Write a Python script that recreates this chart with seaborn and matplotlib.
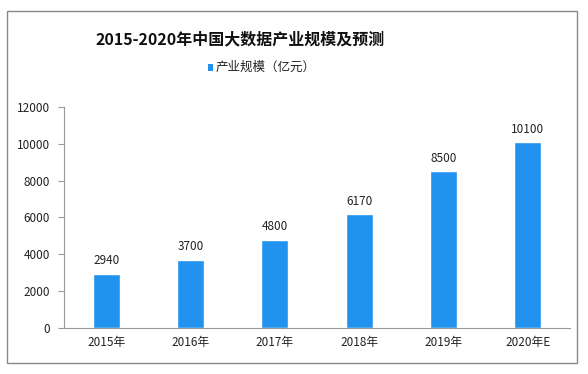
import matplotlib
matplotlib.use("Agg")
import matplotlib.pyplot as plt
import seaborn as sns
import pandas as pd
from matplotlib.patches import Rectangle

years = ["2015年", "2016年", "2017年", "2018年", "2019年", "2020年E"]
values = [2940, 3700, 4800, 6170, 8500, 10100]
series_name = "产业规模（亿元）"
title = "2015-2020年中国大数据产业规模及预测"
yticks = [0, 2000, 4000, 6000, 8000, 10000, 12000]

sns.set_style("white")
plt.rcParams['font.family'] = ['Noto Sans CJK SC', 'DejaVu Sans']

df = pd.DataFrame({"year": years, "value": values})

fig = plt.figure(figsize=(5.88, 3.74), dpi=100)
ax = fig.add_axes([64/588, 46/374, 506/588, 221/374])

bar_color = "#2193EE"
sns.barplot(data=df, x="year", y="value", color=bar_color, width=0.32,
            saturation=1, ax=ax)

for i, v in enumerate(values):
    ax.text(i, v + 350, str(v), ha="center", va="bottom", fontsize=8.5, color="#222222")

ax.set_ylim(0, 12000)
ax.set_xlim(-0.5, 5.5)
ax.set_yticks(yticks)
ax.set_yticklabels([str(t) for t in yticks], fontsize=8.5, color="#222222")
ax.tick_params(axis="x", labelsize=8.5, colors="#222222", length=0, pad=6)
ax.tick_params(axis="y", length=4, width=0.8, color="#999999", left=True, pad=6)
ax.set_xlabel("")
ax.set_ylabel("")
for s in ["top", "right"]:
    ax.spines[s].set_visible(False)
for s in ["left", "bottom"]:
    ax.spines[s].set_color("#999999")
    ax.spines[s].set_linewidth(0.8)

# outer border
fig.patches.append(Rectangle((7/588, 11/374), 570/588, 352/374, transform=fig.transFigure,
                             fill=False, edgecolor="#888888", linewidth=1))

fig.text(240/588, 1 - 39/374, title, ha="center", va="center", fontsize=11.5,
         fontweight="bold", color="#111111")

# legend
fig.patches.append(Rectangle((208/588, 1 - 71/374), 5/588, 7/374, transform=fig.transFigure,
                             facecolor=bar_color, edgecolor="none"))
fig.text(216/588, 1 - 67/374, series_name, ha="left", va="center", fontsize=9, color="#222222")

fig.savefig("out.png", dpi=100, facecolor="white")
